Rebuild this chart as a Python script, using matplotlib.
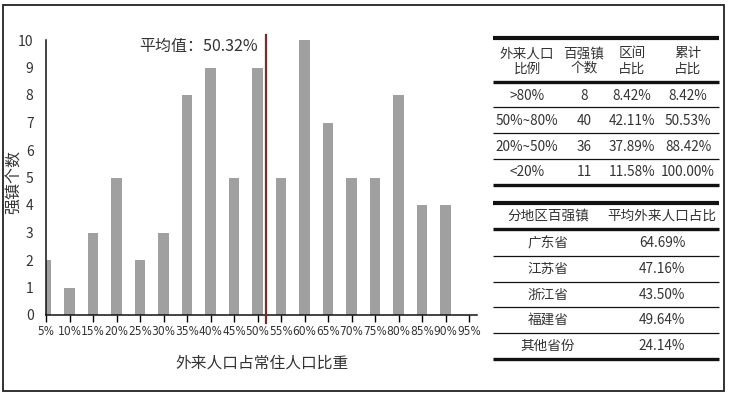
import matplotlib
matplotlib.use("Agg")
import matplotlib.pyplot as plt
from matplotlib.lines import Line2D
from matplotlib.patches import Rectangle

plt.rcParams["font.family"] = ["Noto Sans CJK SC", "DejaVu Sans"]

# histogram data
bins = [5, 10, 15, 20, 25, 30, 35, 40, 45, 50, 55, 60, 65, 70, 75, 80, 85, 90, 95]
counts = [2, 1, 3, 5, 2, 3, 8, 9, 5, 9, 5, 10, 7, 5, 5, 8, 4, 4, 0]
mean_label = "平均值：50.32%"
mean_line_x = 51.8  # where the line sits in the picture

# table 1
t1_header = ["外来人口\n比例", "百强镇\n个数", "区间\n占比", "累计\n占比"]
t1_ranges = [">80%", "50%~80%", "20%~50%", "<20%"]
t1_counts = [8, 40, 36, 11]
t1_share = ["8.42%", "42.11%", "37.89%", "11.58%"]
t1_cum = ["8.42%", "50.53%", "88.42%", "100.00%"]

# table 2
t2_header = ["分地区百强镇", "平均外来人口占比"]
t2_regions = ["广东省", "江苏省", "浙江省", "福建省", "其他省份"]
t2_values = ["64.69%", "47.16%", "43.50%", "49.64%", "24.14%"]

W, H = 733, 399
TXT = "#333333"
fig = plt.figure(figsize=(W / 100, H / 100), dpi=100)

# canvas in pixel coordinates for frame and tables
cv = fig.add_axes([0, 0, 1, 1])
cv.set_xlim(0, W)
cv.set_ylim(H, 0)
cv.axis("off")
cv.add_patch(Rectangle((3, 5), 721, 386, fill=False, ec="#222222", lw=1.3))

# histogram
ax = fig.add_axes([46 / W, 1 - 315 / H, (477 - 46) / W, (315 - 40) / H])
ax.bar(bins, counts, width=2.2, color="#a0a0a0", zorder=2)
ax.set_xlim(5, 96.7)
ax.set_ylim(0, 10)
ax.set_xticks(bins)
ax.set_xticklabels([f"{b}%" for b in bins], family="DejaVu Sans", stretch="condensed",
                   fontsize=8.6, color=TXT)
ax.set_yticks(range(0, 11))
ax.tick_params(axis="y", length=0, pad=9, labelsize=10, labelcolor=TXT)
ax.tick_params(axis="x", length=5, width=1, direction="out", pad=2)
for s in ["top", "right"]:
    ax.spines[s].set_visible(False)
for s in ["left", "bottom"]:
    ax.spines[s].set_linewidth(1.1)
    ax.spines[s].set_color("#111111")
ax.plot([mean_line_x, mean_line_x], [-0.3, 10.18], color="#7a2a2a", lw=1.6,
        clip_on=False, zorder=3)
ax.annotate(mean_label, (mean_line_x, 9.75), xytext=(-6, 0), textcoords="offset points",
            ha="right", va="center", fontsize=11.5, color=TXT)
ax.set_xlabel("外来人口占常住人口比重", fontsize=11.3, color=TXT, labelpad=12)
ax.set_ylabel("强镇个数", fontsize=11.5, color=TXT)
ax.yaxis.set_label_coords(-0.054, 0.484)

# table helpers
TX0, TX1 = 493, 719


def hline(y, lw):
    cv.add_line(Line2D([TX0, TX1], [y, y], color="#111111", lw=lw, solid_capstyle="butt"))


def txt(x, y, s):
    cv.text(x, y, s, ha="center", va="center", fontsize=9.8, color=TXT, linespacing=1.1)


# table 1
t1_x = [527, 584, 632, 688]
hline(38, 3.0)
hline(82, 2.4)
for y in [107, 133, 159]:
    hline(y, 0.9)
hline(185, 2.4)
for x, h in zip(t1_x, t1_header):
    txt(x, 61, h)
t1_rows_y = [96, 121, 147, 172]
for i, y in enumerate(t1_rows_y):
    for x, s in zip(t1_x, [t1_ranges[i], str(t1_counts[i]), t1_share[i], t1_cum[i]]):
        txt(x, y, s)

# table 2
t2_x = [548, 662]
hline(203, 3.0)
hline(229, 2.4)
for y in [256, 282, 307, 333]:
    hline(y, 0.9)
hline(359, 2.4)
for x, h in zip(t2_x, t2_header):
    txt(x, 216, h)
t2_rows_y = [243, 269, 295, 320, 346]
for y, r, v in zip(t2_rows_y, t2_regions, t2_values):
    txt(t2_x[0], y, r)
    txt(t2_x[1], y, v)

fig.savefig("out.png", dpi=100)
